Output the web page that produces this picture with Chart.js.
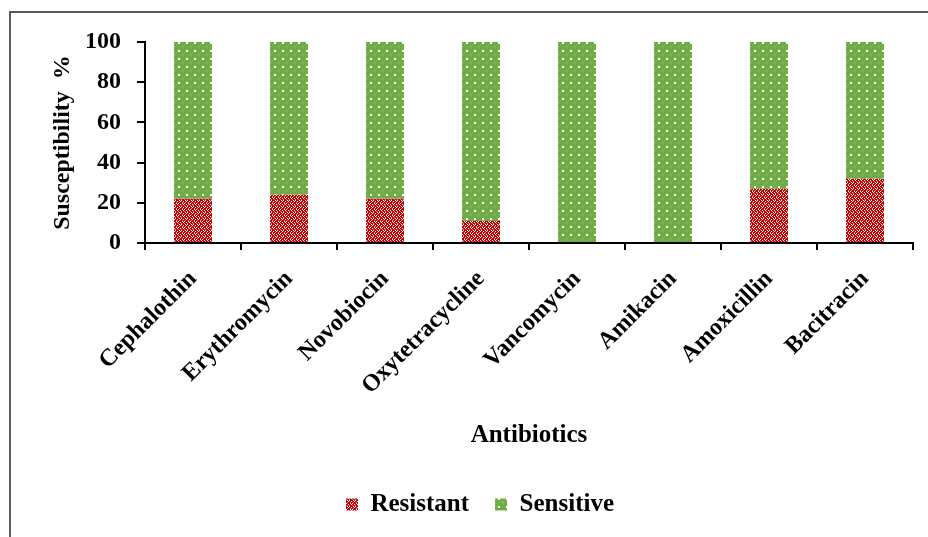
<!DOCTYPE html>
<html>
<head>
<meta charset="utf-8">
<script src="https://cdn.jsdelivr.net/npm/chart.js@4.4.1/dist/chart.umd.min.js"></script>
<style>
  html, body { margin: 0; padding: 0; background: #ffffff; }
  #wrap { width: 928px; height: 537px; }
</style>
</head>
<body>
<div id="wrap"><canvas id="chart" width="928" height="537"></canvas></div>
<script>
// Antibiotic susceptibility (%) per antibiotic
const categories = ['Cephalothin', 'Erythromycin', 'Novobiocin', 'Oxytetracycline', 'Vancomycin', 'Amikacin', 'Amoxicillin', 'Bacitracin'];
const resistant = [22, 24, 22, 11, 0, 0, 27, 32];
const sensitive = [78, 76, 78, 89, 100, 100, 73, 68];
const yTicks = [0, 20, 40, 60, 80, 100];

const FONT = '"Liberation Serif", "Times New Roman", serif';

// Lattice fill for the resistant bars
function latticePattern() {
  const c = document.createElement('canvas');
  c.width = 6; c.height = 6;
  const g = c.getContext('2d');
  g.fillStyle = '#c00000';
  g.fillRect(0, 0, 6, 6);
  g.fillStyle = '#ffffff';
  const white = [[0,0],[3,0],[1,2],[5,2],[0,3],[3,3],[2,5],[4,5]];
  white.forEach(([x, y]) => g.fillRect(x, y, 1, 1));
  g.fillStyle = 'rgba(255,255,255,0.5)';
  [[1,1],[4,1],[2,4],[5,4]].forEach(([x, y]) => g.fillRect(x, y, 1, 1));
  return g.createPattern(c, 'repeat');
}

// Dotted fill for the sensitive bars
function dotPattern() {
  const c = document.createElement('canvas');
  c.width = 8; c.height = 8;
  const g = c.getContext('2d');
  g.fillStyle = '#70ad47';
  g.fillRect(0, 0, 8, 8);
  g.fillStyle = '#ffffff';
  g.fillRect(2, 2, 2, 2);
  g.fillStyle = 'rgba(255,255,255,0.6)';
  g.fillRect(6, 6, 1, 1);
  return g.createPattern(c, 'repeat');
}

// Outer frame (top and left edges)
const framePlugin = {
  id: 'frame',
  beforeDraw(chart) {
    const ctx = chart.ctx;
    ctx.save();
    ctx.fillStyle = '#ffffff';
    ctx.fillRect(0, 0, chart.width, chart.height);
    ctx.strokeStyle = '#5a5a5a';
    ctx.lineWidth = 2;
    ctx.beginPath();
    ctx.moveTo(10, chart.height);
    ctx.lineTo(10, 12);
    ctx.lineTo(chart.width, 12);
    ctx.stroke();
    ctx.restore();
  }
};

new Chart(document.getElementById('chart'), {
  type: 'bar',
  data: {
    labels: categories,
    datasets: [
      { label: 'Resistant', data: resistant, backgroundColor: latticePattern(), borderWidth: 0, barPercentage: 0.396, categoryPercentage: 1 },
      { label: 'Sensitive', data: sensitive, backgroundColor: dotPattern(), borderWidth: 0, barPercentage: 0.396, categoryPercentage: 1 }
    ]
  },
  options: {
    responsive: false,
    animation: false,
    layout: { padding: { top: 42, right: 15, left: 47, bottom: 10 } },
    plugins: {
      legend: {
        position: 'bottom',
        labels: {
          color: '#000000',
          font: { family: FONT, size: 25, weight: 'bold' },
          boxWidth: 12,
          boxHeight: 12,
          padding: 26
        }
      },
      tooltip: { enabled: false }
    },
    scales: {
      x: {
        stacked: true,
        offset: true,
        afterFit(scale) { scale.height = 223; },
        border: { display: true, color: '#000000', width: 2 },
        grid: { display: true, drawOnChartArea: false, drawTicks: true, tickLength: 7, color: '#000000', lineWidth: 2, offset: true },
        ticks: {
          color: '#000000',
          font: { family: FONT, size: 24, weight: 'bold' },
          minRotation: 45,
          maxRotation: 45,
          padding: 15
        },
        title: {
          display: true,
          text: 'Antibiotics',
          color: '#000000',
          font: { family: FONT, size: 25, weight: 'bold' },
          padding: { top: 0, bottom: 15 }
        }
      },
      y: {
        stacked: true,
        min: 0,
        max: 100,
        afterFit(scale) { scale.width = 98; },
        afterBuildTicks(scale) { scale.ticks = yTicks.map(v => ({ value: v })); },
        border: { display: true, color: '#000000', width: 2 },
        grid: { display: true, drawOnChartArea: false, drawTicks: true, tickLength: 8, color: '#000000', lineWidth: 2 },
        ticks: {
          color: '#000000',
          font: { family: FONT, size: 24, weight: 'bold' },
          padding: 16
        },
        title: {
          display: true,
          text: 'Susceptibility  %',
          color: '#000000',
          font: { family: FONT, size: 24, weight: 'bold' },
          padding: { top: 1, bottom: 0 }
        }
      }
    }
  },
  plugins: [framePlugin]
});
</script>
</body>
</html>
